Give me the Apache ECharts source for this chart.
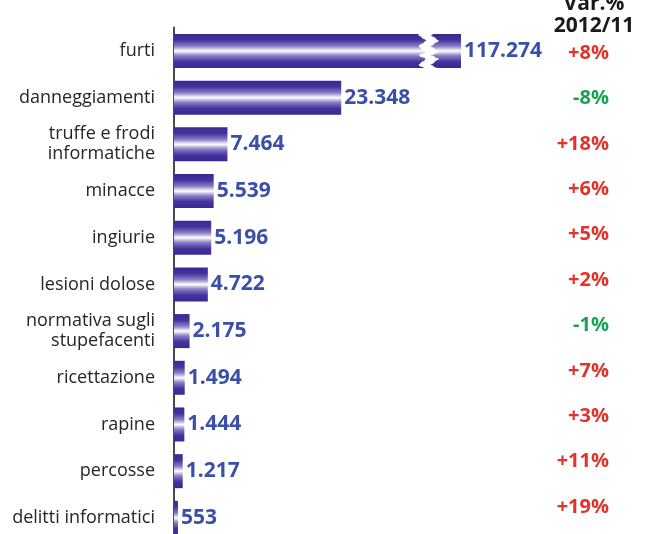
<!DOCTYPE html>
<html>
<head>
<meta charset="utf-8">
<script src="https://cdn.jsdelivr.net/npm/echarts@6.0.0/dist/echarts.min.js"></script>
<style>
  html, body {margin: 0; padding: 0; background: #fff;}
  #chart {width: 645px; height: 534px;}
</style>
</head>
<body>
<div id="chart"></div>
<script>
const categories = [
  'furti', 'danneggiamenti', 'truffe e frodi\ninformatiche', 'minacce', 'ingiurie',
  'lesioni dolose', 'normativa sugli\nstupefacenti', 'ricettazione', 'rapine',
  'percosse', 'delitti informatici'
];
const values = [117274, 23348, 7464, 5539, 5196, 4722, 2175, 1494, 1444, 1217, 553];
const changes = [8, -8, 18, 6, 5, 2, -1, 7, 3, 11, 19];
const changeHeader = 'Var.%\n2012/11';
// the furti bar is cut, as in the original
const cut = {start: 34600, end: 113600, gap: 1800};

const fmt = v => String(v).replace(/\B(?=(\d{3})+(?!\d))/g, '.');
const fmtChange = v => (v > 0 ? '{up|+' + v + '%}' : '{down|' + v + '%}');

const barFill = new echarts.graphic.LinearGradient(0, 0, 0, 1, [
  {offset: 0, color: '#3a2894'},
  {offset: 0.18, color: '#44329c'},
  {offset: 0.36, color: '#8a7ec6'},
  {offset: 0.5, color: '#ffffff'},
  {offset: 0.64, color: '#8a7ec6'},
  {offset: 0.82, color: '#44329c'},
  {offset: 1, color: '#3a2894'}
]);

const myChart = echarts.init(document.getElementById('chart'));
myChart.setOption({
  animation: false,
  title: {
    text: changeHeader,
    left: 589,
    top: -12,
    textAlign: 'center',
    textStyle: {
      fontFamily: 'Open Sans', fontWeight: 'bold', fontSize: 21,
      lineHeight: 22, color: '#1a1a1a'
    }
  },
  grid: [
    {left: 174, width: 287, top: 27.6, height: 513.6, outerBoundsMode: 'none'},
    {left: 609, width: 1, top: 30.3, height: 499.4, outerBoundsMode: 'none'}
  ],
  xAxis: [{
    gridIndex: 0,
    type: 'value',
    min: 0,
    max: Math.max(...values),
    show: true,
    axisLine: {show: false},
    axisTick: {show: false},
    axisLabel: {show: false},
    splitLine: {show: false},
    breaks: [cut],
    breakArea: {
      show: true,
      itemStyle: {color: '#fff', borderColor: '#fff', borderWidth: 1, opacity: 1},
      zigzagAmplitude: 4,
      zigzagMinSpan: 3,
      zigzagMaxSpan: 7
    }
  }, {
    gridIndex: 1,
    type: 'value',
    show: false
  }],
  yAxis: [{
    gridIndex: 0,
    type: 'category',
    data: categories,
    inverse: true,
    axisLine: {show: true, lineStyle: {color: '#4a4a4a', width: 2}},
    axisTick: {show: false},
    axisLabel: {
      margin: 19,
      align: 'right',
      fontFamily: 'Open Sans', fontSize: 18, lineHeight: 20, color: '#262626'
    }
  }, {
    gridIndex: 1,
    type: 'category',
    data: changes,
    inverse: true,
    axisLine: {show: false},
    axisTick: {show: false},
    axisLabel: {
      margin: 0,
      align: 'right',
      formatter: v => fmtChange(Number(v)),
      rich: {
        up: {fontFamily: 'Open Sans', fontWeight: 'bold', fontSize: 20, color: '#e2332b'},
        down: {fontFamily: 'Open Sans', fontWeight: 'bold', fontSize: 20, color: '#17a34f'}
      }
    }
  }],
  series: [{
    type: 'bar',
    xAxisIndex: 0,
    yAxisIndex: 0,
    data: values,
    barWidth: 34,
    itemStyle: {color: barFill},
    label: {
      show: true,
      position: 'right',
      distance: 3,
      formatter: p => fmt(p.value),
      fontFamily: 'Open Sans', fontWeight: 'bold', fontSize: 21, color: '#3a50a8'
    }
  }]
});
</script>
</body>
</html>
